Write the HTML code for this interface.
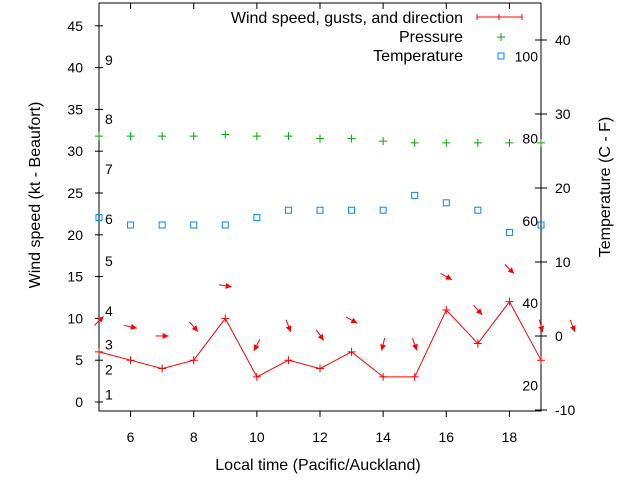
<!DOCTYPE html>
<html><head><meta charset="utf-8"><style>
body{margin:0;background:#fff}
svg{display:block;font-family:"Liberation Sans",sans-serif}
</style></head><body>
<svg id="c" width="640" height="480" viewBox="0 0 640 480">
<rect width="640" height="480" fill="#fff"/>
<g id="axes"></g>
<g id="plot"></g>
<text x="318" y="470" font-size="16" text-anchor="middle">Local time (Pacific/Auckland)</text>
<text transform="translate(40,195) rotate(-90)" font-size="16" text-anchor="middle">Wind speed (kt - Beaufort)</text>
<text transform="translate(610,187) rotate(-90)" font-size="16" text-anchor="middle">Temperature (C - F)</text>
<g font-size="16">
<text x="463" y="23" text-anchor="end">Wind speed, gusts, and direction</text>
<path d="M477,17H522M477,14V20M499,14V20M522,14V20" stroke="#f00"/>
<text x="463" y="42" text-anchor="end">Pressure</text>
<path d="M497,37H505M501,33V41" stroke="#0a0"/>
<text x="463" y="61" text-anchor="end">Temperature</text>
<rect x="498" y="53" width="6" height="6" fill="none" stroke="#08f"/>
</g>
</svg>
<script>
const hours=[5,6,7,8,9,10,11,12,13,14,15,16,17,18,19];
const windSpeed=[6,5,4,5,10,3,5,4,6,3,3,11,7,12,5];
const pressure=[31.8,31.8,31.8,31.8,32,31.8,31.8,31.5,31.5,31.2,31,31,31,31,31];
const temperature=[16,15,15,15,15,16,17,17,17,17,19,18,17,14,15];
const arrowHours=[5,6,7,8,9,10,11,12,13,14,15,16,17,18,19,20];
const gusts=[9.7,9,7.9,9,13.9,6.8,9.1,8,9.8,6.9,6.9,15,11,15.9,9.1,9.1];
const arrowAngle=[-45,12,0,48,9,117,70,55,29,104,70,29,48,45,75,68];
const xTicks=[6,8,10,12,14,16,18];
const yTicks=[0,5,10,15,20,25,30,35,40,45];
const y2Ticks=[-10,0,10,20,30,40];
const beaufort=["1","2","3","4","5","6","7","8","9"];
const beaufortKt=[1,4,7,11,17,22,28,34,41];
const fahrenheit=["20","40","60","80","100"];

const L=99,R=541,T=3,B=411;
const X=h=>L+(h-5)*(R-L)/14;
const Y=v=>402-v*8.36;
const Y2=t=>336-t*7.4;
const NS="http://www.w3.org/2000/svg";
function mk(parent,tag,attrs){const e=document.createElementNS(NS,tag);for(const k in attrs)e.setAttribute(k,attrs[k]);parent.appendChild(e);return e;}
const ax=document.getElementById('axes'),pl=document.getElementById('plot');
let b=mk(ax,'rect',{x:L,y:T,width:R-L,height:B-T,fill:'none',stroke:'#000'});


xTicks.forEach(h=>{
 let t=mk(ax,'path',{d:`M${X(h)},${B}V${B+6}M${X(h)},${T}V${T+6}`,stroke:'#000'});
 
 
 let s=mk(ax,'text',{x:X(h),y:B+31,'font-size':14,'text-anchor':'middle'});s.textContent=h;
 
 
});
yTicks.forEach(v=>{
 let t=mk(ax,'path',{d:`M${L-4},${Y(v)}H${L+4}`,stroke:'#000'});
 
 
 let s=mk(ax,'text',{x:L-16,y:Y(v)+5,'font-size':14,'text-anchor':'end'});s.textContent=v;
 
 
});
y2Ticks.forEach(v=>{
 let t=mk(ax,'path',{d:`M${R-6},${Y2(v)}H${R+6}`,stroke:'#000'});
 
 
 let s=mk(ax,'text',{x:R+14,y:Y2(v)+5,'font-size':14});s.textContent=v;
 
 
});
beaufort.forEach((s,i)=>{
 let t=mk(ax,'text',{x:105,y:Y(beaufortKt[i])+6,'font-size':14});t.textContent=s;
 
 
});
fahrenheit.forEach(s=>{
 const c=(+s-32)*5/9;
 let t=mk(ax,'text',{x:538,y:Y2(c)+5,'font-size':14,'text-anchor':'end'});t.textContent=s;
 
 
});
let wl=mk(pl,'polyline',{points:hours.map((h,i)=>X(h)+','+Y(windSpeed[i])).join(' '),fill:'none',stroke:'#f00'});


hours.forEach((h,i)=>{
 const x=X(h),y=Y(windSpeed[i]);
 let p=mk(pl,'path',{d:`M${x-4},${y}H${x+4}M${x},${y-4}V${y+4}`,stroke:'#f00'});
 
 
 let g=mk(pl,'path',{d:`M${x-4},${Y(pressure[i])}H${x+4}M${x},${Y(pressure[i])-4}V${Y(pressure[i])+4}`,stroke:'#0a0'});
 
 
 let q=mk(pl,'rect',{x:x-3,y:Y2(temperature[i])-3,width:6,height:6,fill:'none',stroke:'#08f'});
 
 
});
arrowHours.forEach((h,i)=>{
 const x=X(h),y=Y(gusts[i]),a=arrowAngle[i]*Math.PI/180,len=13;
 const dx=Math.cos(a),dy=Math.sin(a);
 const x1=x-dx*len/2,y1=y-dy*len/2,x2=x+dx*len/2,y2=y+dy*len/2;
 const px=-dy,py=dx;
 const bx=x2-dx*6,by=y2-dy*6;
 let g=mk(pl,'g',{});
 
 
 mk(g,'line',{x1:x1,y1:y1,x2:x2,y2:y2,stroke:'#f00'});
 mk(g,'polygon',{points:`${x2},${y2} ${bx+px*3},${by+py*3} ${bx-px*3},${by-py*3}`,fill:'#f00'});
});
</script>
</body></html>
